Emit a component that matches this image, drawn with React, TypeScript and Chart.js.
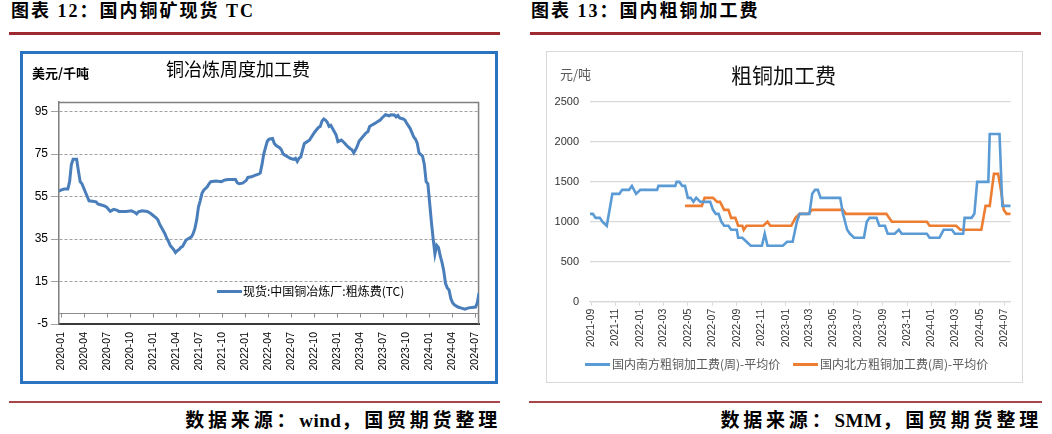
import { useEffect, useRef } from "react";
import { Chart, registerables } from "chart.js";

Chart.register(...registerables);

// ---------- Chart 12: 国内铜矿现货 TC (weekly, USD/dmt) ----------
const tcStart = "2019-12-24";
const tcWeek = [0, 1, 3, 5, 6, 7, 8, 10, 11, 12, 13, 14, 15, 16, 17, 19, 21, 22, 24, 26, 27, 28, 29, 30, 31, 33, 34, 38, 41, 43, 44, 45, 47, 50, 52, 53, 55, 56, 57, 58, 59, 60, 61, 62, 63, 64, 65, 66, 67, 68, 69, 70, 71, 72, 73, 75, 76, 77, 78, 79, 80, 81, 82, 84, 85, 86, 89, 92, 94, 96, 100, 101, 102, 104, 106, 107, 109, 111, 113, 114, 115, 116, 117, 118, 119, 121, 122, 123, 125, 126, 127, 128, 130, 131, 133, 134, 135, 136, 137, 138, 139, 140, 142, 143, 145, 147, 148, 149, 150, 151, 152, 153, 154, 155, 156, 157, 158, 160, 162, 163, 165, 166, 167, 168, 169, 170, 172, 174, 175, 176, 178, 179, 181, 182, 183, 185, 187, 188, 190, 191, 192, 193, 195, 196, 197, 199, 200, 201, 202, 203, 204, 206, 207, 208, 209, 210, 211, 212, 213, 214, 215, 216, 217, 218, 219, 220, 221, 222, 223, 224, 226, 228, 230, 232, 234, 236, 237, 238];
const tcValue = [57.5, 58, 58.5, 58.5, 62, 70, 72.5, 72.5, 67, 62, 61, 59, 57, 55, 53, 52.8, 52.5, 51.5, 51, 50.5, 50, 49, 48, 48.5, 49, 48.5, 48, 48, 48.3, 47.5, 46.8, 47.8, 48.3, 48, 47, 46.3, 45, 44, 42, 40.5, 39, 37.5, 35.5, 34, 32, 31, 30, 28.6, 29.5, 30, 31, 31.5, 33, 34.5, 35, 36, 37.5, 40, 44, 50, 53, 56.5, 58, 59.6, 61, 62, 62.3, 62, 62.8, 63, 63, 61.5, 61, 61.3, 62.5, 64, 64.3, 65, 65.5, 66, 70, 75, 78, 81, 82, 82.3, 80, 79, 78, 77, 75, 74.5, 73.5, 73, 72.5, 73, 71.5, 73, 73.7, 77, 80, 80.5, 81.6, 83, 85.5, 87.5, 88, 90.5, 91.5, 91, 90, 88, 88.5, 87, 85.5, 84, 80.8, 81.6, 80, 79, 77.5, 77, 75.5, 77, 78.7, 81, 83, 85, 85.5, 88, 89, 89.4, 90.5, 91, 92, 93.5, 93, 93.5, 93.4, 92.5, 93.2, 92, 91.5, 91, 89.5, 87, 85, 83, 82, 80, 75.5, 74, 70, 62, 61, 52, 43, 35, 28, 32, 31, 27, 24, 20, 14, 12, 11, 7, 5, 4, 3, 2.5, 2, 2.6, 2.8, 3, 5, 9.6];
const tcTickLabels = ["2020-01", "2020-04", "2020-07", "2020-10", "2021-01", "2021-04", "2021-07", "2021-10", "2022-01", "2022-04", "2022-07", "2022-10", "2023-01", "2023-04", "2023-07", "2023-10", "2024-01", "2024-04", "2024-07"];
const tcYTicks = [-5, 15, 35, 55, 75, 95];

// ---------- Chart 13: 国内粗铜加工费 (weekly, 元/吨) ----------
const rcStart = "2021-08-29";
const southWeek = [0, 1, 2, 3.5, 4.5, 6, 8, 10.5, 11.5, 14, 15, 16.5, 18, 24, 24.5, 30.5, 31, 32, 33, 34, 35, 36, 37, 38, 39.5, 43, 44, 45, 46, 47, 48, 49.5, 50.5, 52.5, 53, 54.5, 56, 57.5, 61.5, 62.5, 63.5, 69, 70.5, 72.5, 74, 75, 78.5, 79.5, 80.5, 81.5, 82.5, 89.5, 90.5, 92, 93, 94.5, 98, 99, 100, 102.5, 103.5, 105.5, 106.5, 109, 110.5, 111.5, 120.5, 121.5, 125, 126.5, 129.5, 130.5, 133.5, 134, 136.5, 137.5, 138.5, 142.5, 143, 146.5, 147.5, 150.5];
const southValue = [1100, 1100, 1050, 1050, 1000, 950, 1350, 1350, 1400, 1400, 1450, 1350, 1400, 1400, 1450, 1450, 1500, 1500, 1450, 1450, 1300, 1300, 1250, 1300, 1250, 1250, 1150, 1100, 1100, 1000, 950, 950, 900, 900, 800, 800, 750, 700, 700, 850, 700, 700, 750, 750, 1000, 1100, 1100, 1350, 1400, 1400, 1300, 1300, 1100, 900, 850, 800, 800, 1000, 1050, 1050, 950, 950, 850, 850, 900, 850, 850, 800, 800, 900, 900, 850, 850, 1050, 1050, 1100, 1500, 1500, 2100, 2100, 1200, 1200];
const northWeek = [34, 40, 41, 44, 45.5, 46.5, 48, 49.5, 50.5, 52, 53, 54.5, 55, 56, 62, 63.5, 64.5, 72, 73.5, 75, 78, 79.5, 90.5, 91.5, 106, 108, 120.5, 121.5, 131, 132.5, 140, 141.5, 143, 144.5, 146, 147, 148, 149, 150.5];
const northValue = [1200, 1200, 1300, 1300, 1250, 1250, 1150, 1150, 1050, 1050, 950, 950, 900, 950, 950, 1000, 950, 950, 1050, 1100, 1100, 1150, 1150, 1100, 1100, 1000, 1000, 950, 950, 900, 900, 1200, 1200, 1600, 1600, 1400, 1150, 1100, 1100];
const rcTickLabels = ["2021-09", "2021-11", "2022-01", "2022-03", "2022-05", "2022-07", "2022-09", "2022-11", "2023-01", "2023-03", "2023-05", "2023-07", "2023-09", "2023-11", "2024-01", "2024-03", "2024-05", "2024-07"];
const rcYTicks = [0, 500, 1000, 1500, 2000, 2500];

const DAY = 86400000;
function weekOf(month: string, start: string) {
  return (Date.parse(month + "-01T00:00:00Z") - Date.parse(start + "T00:00:00Z")) / (7 * DAY);
}

const numFont = '"Liberation Sans", Arial, sans-serif';
const cjkFont = '"Noto Sans CJK SC", "Liberation Sans", sans-serif';
const headFont = '"Liberation Serif", "Noto Sans CJK SC", serif';

const leftDecor = {
  id: "leftDecor",
  beforeDatasetsDraw(chart: any) {
    const { ctx, chartArea: a, scales } = chart;
    const x = scales.x;
    const y = scales.y;
    ctx.save();
    ctx.strokeStyle = "#7f7f7f";
    ctx.lineWidth = 1.5;
    ctx.beginPath();
    ctx.moveTo(a.left, a.top + 0.5);
    ctx.lineTo(a.right - 0.5, a.top + 0.5);
    ctx.lineTo(a.right - 0.5, a.bottom);
    ctx.stroke();
    const y0 = Math.round(y.getPixelForValue(0)) + 0.5;
    ctx.strokeStyle = "#8c8c8c";
    ctx.lineWidth = 1;
    ctx.beginPath();
    ctx.moveTo(a.left, y0);
    ctx.lineTo(a.right, y0);
    x.ticks.forEach((t: any) => {
      const px = Math.round(x.getPixelForValue(t.value)) + 0.5;
      ctx.moveTo(px, y0);
      ctx.lineTo(px, y0 + 4);
    });
    ctx.stroke();
    ctx.restore();
  },
};

const abs = (s: any) => ({ position: "absolute" as const, whiteSpace: "nowrap" as const, ...s });

export default function App() {
  const leftRef = useRef<HTMLCanvasElement>(null);
  const rightRef = useRef<HTMLCanvasElement>(null);

  useEffect(() => {
    const left = new Chart(leftRef.current!, {
      type: "line",
      data: {
        datasets: [
          {
            data: tcWeek.map((w, i) => ({ x: w, y: tcValue[i] })),
            borderColor: "#4A7EBB",
            borderWidth: 3,
            pointRadius: 0,
            tension: 0,
            fill: false,
          },
        ],
      },
      options: {
        responsive: false,
        animation: false,
        devicePixelRatio: 1,
        layout: { padding: { top: 48, right: 13, left: 0, bottom: 0 } },
        plugins: { legend: { display: false }, tooltip: { enabled: false } },
        scales: {
          x: {
            type: "linear",
            min: 0,
            max: 238,
            grid: { display: false, drawTicks: false },
            border: { display: true, color: "#3a3a3a", width: 2 },
            afterBuildTicks: (s: any) => {
              s.ticks = tcTickLabels.map((l) => ({ value: weekOf(l, tcStart) }));
            },
            ticks: {
              autoSkip: false,
              maxRotation: 90,
              minRotation: 90,
              padding: 8,
              color: "#000",
              font: { family: numFont, size: 10.5 },
              callback: (_v: any, i: number) => tcTickLabels[i],
            },
            afterFit: (s: any) => {
              s.height = 57;
            },
          },
          y: {
            type: "linear",
            min: -5,
            max: 99.5,
            afterBuildTicks: (s: any) => {
              s.ticks = tcYTicks.map((v) => ({ value: v }));
            },
            grid: { color: "#a0a0a0", tickLength: 8, lineWidth: 1 },
            border: { color: "#7f7f7f", width: 1.5, dash: [3, 2] },
            ticks: {
              padding: 3,
              color: "#000",
              font: { family: numFont, size: 12 },
              callback: (v: any) => String(v),
            },
            afterFit: (s: any) => {
              s.width = 37;
            },
          },
        },
      } as any,
      plugins: [leftDecor],
    });

    const right = new Chart(rightRef.current!, {
      type: "line",
      data: {
        datasets: [
          {
            data: southWeek.map((w, i) => ({ x: w, y: southValue[i] })),
            borderColor: "#5B9BD5",
            borderWidth: 2.6,
            pointRadius: 0,
            tension: 0,
            fill: false,
          },
          {
            data: northWeek.map((w, i) => ({ x: w, y: northValue[i] })),
            borderColor: "#ED7D31",
            borderWidth: 2.6,
            pointRadius: 0,
            tension: 0,
            fill: false,
          },
        ],
      },
      options: {
        responsive: false,
        animation: false,
        devicePixelRatio: 1,
        layout: { padding: { top: 50, right: 11.3, left: 0, bottom: 0 } },
        plugins: { legend: { display: false }, tooltip: { enabled: false } },
        scales: {
          x: {
            type: "linear",
            min: 0,
            max: 150.5,
            grid: { display: true, drawOnChartArea: false, drawTicks: true, tickLength: 4, color: "#d9d9d9" },
            border: { display: true, color: "#d9d9d9", width: 1.3 },
            afterBuildTicks: (s: any) => {
              s.ticks = rcTickLabels.map((l) => ({ value: weekOf(l, rcStart) }));
            },
            ticks: {
              autoSkip: false,
              maxRotation: 90,
              minRotation: 90,
              padding: 3,
              color: "#333",
              font: { family: numFont, size: 10.5 },
              callback: (_v: any, i: number) => rcTickLabels[i],
            },
            afterFit: (s: any) => {
              s.height = 79.3;
            },
          },
          y: {
            type: "linear",
            min: 0,
            max: 2500,
            afterBuildTicks: (s: any) => {
              s.ticks = rcYTicks.map((v) => ({ value: v }));
            },
            grid: { color: "#d9d9d9", lineWidth: 1.3, drawTicks: false },
            border: { display: false },
            ticks: {
              padding: 11,
              color: "#333",
              font: { family: numFont, size: 11 },
              callback: (v: any) => String(v),
            },
            afterFit: (s: any) => {
              s.width = 43;
            },
          },
        },
      } as any,
    });

    return () => {
      left.destroy();
      right.destroy();
    };
  }, []);

  const latin = { letterSpacing: "0.5px" };

  return (
    <div
      style={{
        position: "fixed",
        left: 0,
        top: 0,
        width: 1052,
        height: 434,
        background: "#fff",
        overflow: "hidden",
      }}
    >
      {/* headers */}
      <div style={abs({ left: 11, top: 0, font: `bold 18px ${headFont}`, lineHeight: "22px", letterSpacing: "2px", color: "#000" })}>
        图表 12：国内铜矿现货 TC
      </div>
      <div style={abs({ left: 531, top: 0, font: `bold 18px ${headFont}`, lineHeight: "22px", letterSpacing: "2px", color: "#000" })}>
        图表 13：国内粗铜加工费
      </div>
      <div style={abs({ left: 9, top: 32, width: 491, height: 3, background: "#9e2a2f" })} />
      <div style={abs({ left: 530, top: 32, width: 511, height: 3, background: "#9e2a2f" })} />

      {/* left chart box */}
      <div
        style={abs({
          left: 20,
          top: 51,
          width: 478,
          height: 333,
          border: "3px solid #2a73c0",
          boxSizing: "border-box",
        })}
      />
      <canvas ref={leftRef} width={474} height={327} style={{ position: "absolute", left: 22, top: 54, width: 474, height: 327 }} />
      <div style={abs({ left: 32, top: 64, font: `bold 13px ${cjkFont}`, lineHeight: "18px", color: "#000" })}>美元/千吨</div>
      <div style={abs({ left: 166, top: 57, font: `18px ${cjkFont}`, lineHeight: "22px", color: "#000" })}>铜冶炼周度加工费</div>
      <div style={abs({ left: 217, top: 289.5, width: 25, height: 3, background: "#4A7EBB" })} />
      <div style={abs({ left: 243, top: 283, font: `12px ${cjkFont}`, lineHeight: "16px", color: "#000" })}>
        现货:中国铜冶炼厂:粗炼费(TC)
      </div>

      {/* right chart box */}
      <div style={abs({ left: 546, top: 51, width: 477, height: 332, border: "1px solid #d9d9d9", boxSizing: "border-box" })} />
      <canvas ref={rightRef} width={475} height={329} style={{ position: "absolute", left: 547, top: 52, width: 475, height: 329 }} />
      <div style={abs({ left: 560, top: 65, font: `13px ${cjkFont}`, lineHeight: "18px", color: "#595959" })}>元/吨</div>
      <div style={abs({ left: 731, top: 61, font: `21px ${cjkFont}`, lineHeight: "26px", color: "#111" })}>粗铜加工费</div>
      <div style={abs({ left: 585, top: 362.5, width: 25, height: 3, background: "#5B9BD5" })} />
      <div style={abs({ left: 612, top: 356, font: `12px ${cjkFont}`, lineHeight: "16px", color: "#595959" })}>
        国内南方粗铜加工费(周)-平均价
      </div>
      <div style={abs({ left: 793, top: 362.5, width: 25, height: 3, background: "#ED7D31" })} />
      <div style={abs({ left: 820, top: 356, font: `12px ${cjkFont}`, lineHeight: "16px", color: "#595959" })}>
        国内北方粗铜加工费(周)-平均价
      </div>

      {/* footers */}
      <div style={abs({ left: 9, top: 401, width: 491, height: 2, background: "#a8464a" })} />
      <div style={abs({ left: 529, top: 401, width: 513, height: 2, background: "#a8464a" })} />
      <div style={abs({ right: 1052 - 501, top: 408, font: `bold 19px ${headFont}`, lineHeight: "26px", letterSpacing: "3.8px", color: "#000" })}>
        数据来源：<span style={latin}>wind</span>，国贸期货整理
      </div>
      <div style={abs({ right: 1052 - 1042, top: 408, font: `bold 19px ${headFont}`, lineHeight: "26px", letterSpacing: "3.8px", color: "#000" })}>
        数据来源：<span style={latin}>SMM</span>，国贸期货整理
      </div>
    </div>
  );
}
